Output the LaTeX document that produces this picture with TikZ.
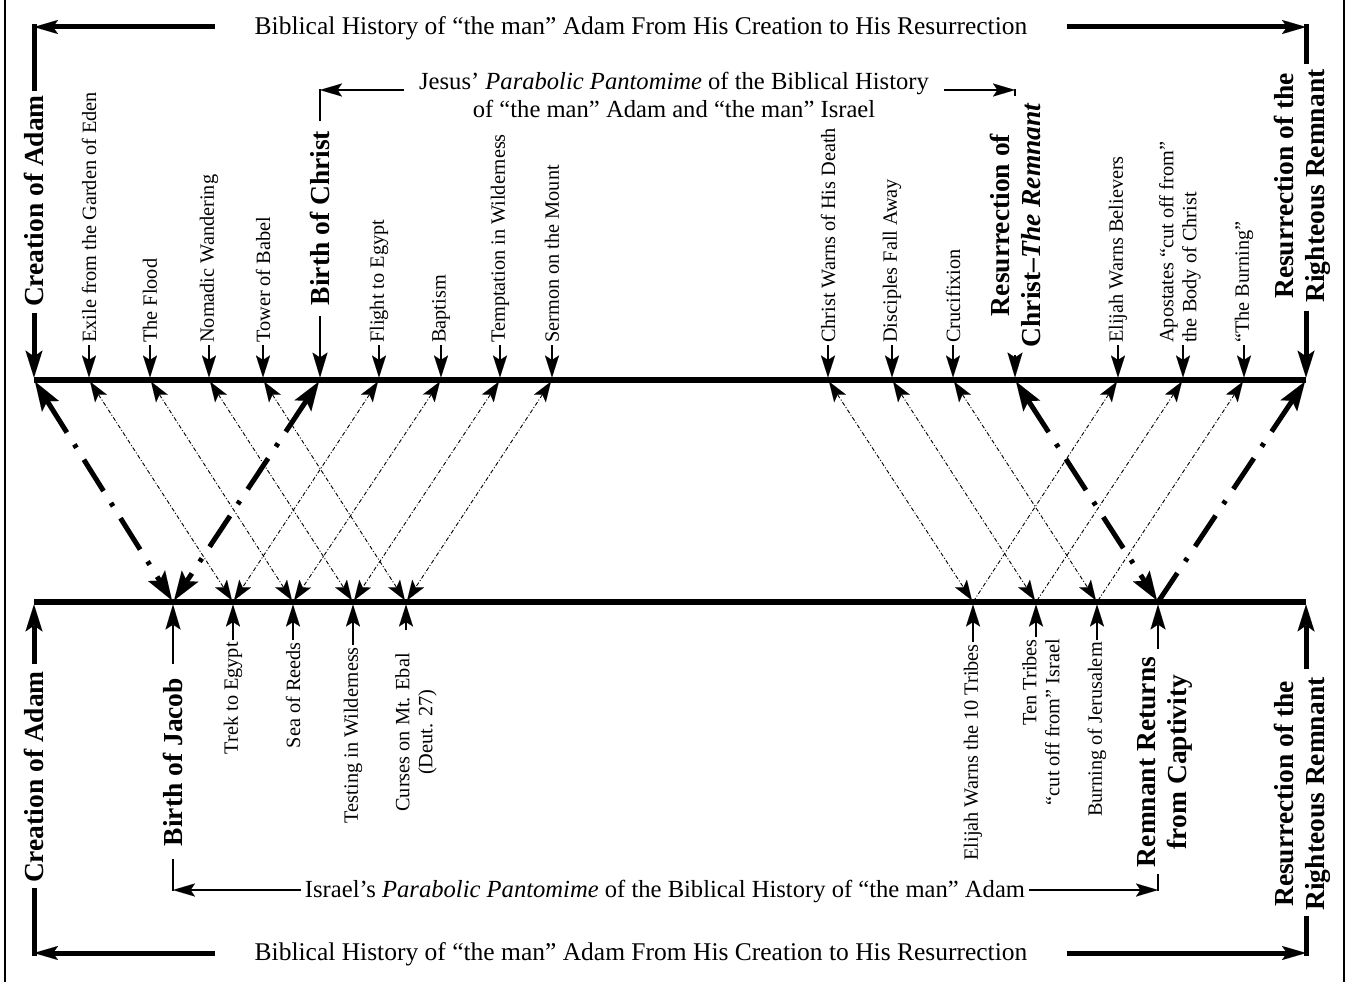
\documentclass[tikz,border=0pt]{standalone}
\usepackage{fontspec}
\setmainfont{Liberation Serif}
\usetikzlibrary{arrows.meta}
\tikzset{
  bigV/.tip={Stealth[length=27pt,width=17pt,inset=6pt,line width=0.01pt]},
  midV/.tip={Stealth[length=25pt,width=15pt,inset=5pt,line width=0.01pt]},
  bigH/.tip={Stealth[length=24pt,width=14pt,inset=5pt,line width=0.01pt]},
  midH/.tip={Stealth[length=22pt,width=13pt,inset=4.5pt,line width=0.01pt]},
  smT/.tip={Stealth[length=22pt,width=14pt,inset=4.5pt,line width=0.01pt]},
  thinT/.tip={Stealth[length=20pt,width=14pt,inset=4.5pt,line width=0.01pt]},
  thickT/.tip={Stealth[length=29pt,width=20pt,inset=6pt,line width=0.01pt]},
  heavy/.style={line width=5pt},
  timeln/.style={line width=5.5pt},
  midln/.style={line width=2.7pt},
  smln/.style={line width=1.4pt},
  thinx/.style={line width=0.9pt,dash pattern=on 4pt off 2pt on 1pt off 2pt,shorten <=2pt,shorten >=2pt},
  thickx/.style={line width=5pt,dash pattern=on 37pt off 14pt on 4pt off 14pt,shorten <=2pt,shorten >=2pt},
  bl/.style={rotate=90,font=\fontsize{27.5}{31}\selectfont\bfseries,align=center,inner xsep=8pt,inner ysep=0pt},
  sl/.style={rotate=90,font=\fontsize{20.3}{23}\selectfont,inner xsep=2pt,inner ysep=0pt},
  ttl/.style={font=\fontsize{25.5}{30}\selectfont,inner xsep=39pt,inner ysep=0pt},
  jt/.style={font=\fontsize{24.6}{28}\selectfont,align=center,inner ysep=0pt}
}
\begin{document}
\begin{tikzpicture}[x=1pt,y=-1pt]
\useasboundingbox (0,0) rectangle (1348,982);
% frame sides
\draw[line width=2pt] (5,0) -- (5,982);
\draw[line width=2pt] (1344,0) -- (1344,982);
% timeline points
\foreach \n/\x in {0/34,1/89,2/150,3/209,4/263,5/320,6/379,7/441,8/500,9/552,10/828,11/892,12/953,13/1015,14/1118,15/1183,16/1244,17/1306}
  \coordinate (a\n) at (\x,380);
\foreach \n/\x in {0/34,1/173,2/233,3/293,4/353,5/406,6/973,7/1036,8/1097,9/1158,10/1306}
  \coordinate (b\n) at (\x,602);
\draw[timeln] (a0) -- (a17);
\draw[timeln] (b0) -- (b10);
% ---------- top ----------
\node[ttl] (T1) at (641,28) {Biblical History of “the man” Adam From His Creation to His Resurrection};
\coordinate (TL) at (34,27);
\coordinate (TR) at (1306,27);
\draw[heavy,-{bigH}] (T1.west |- TL) -- (TL);
\draw[heavy,-{bigH}] (T1.east |- TR) -- (TR);
\node[bl,inner xsep=6pt] (cAt) at (34,201) {Creation of Adam};
\draw[heavy,line cap=rect] (TL) -- (cAt.east);
\draw[heavy,-{bigV},shorten >=2.5pt] (cAt.west) -- (a0);
\node[bl] (rRt) at (1302,186) {Resurrection of the\\Righteous Remnant};
\draw[heavy,line cap=rect] (TR) -- (TR |- rRt.east);
\draw[heavy,-{bigV},shorten >=2.5pt] (a17 |- rRt.west) -- (a17);
% Jesus bracket
\node[jt,inner xsep=15pt] (J) at (674,95) {Jesus’ \textit{Parabolic Pantomime} of the Biblical History\\of “the man” Adam and “the man” Israel};
\coordinate (JL) at (320,90);
\coordinate (JR) at (1015,90);
\draw[midln,-{midH}] (J.west |- JL) -- (JL);
\draw[midln,-{midH}] (J.east |- JR) -- (JR);
\node[bl,inner xsep=11pt] (bC) at (320,218) {Birth of Christ};
\draw[midln,line cap=rect] (JL) -- (bC.east);
\draw[midln,-{midV},shorten >=2.5pt] (bC.west) -- (a5);
\node[bl] (rC) at (1015,225) {Resurrection of\\Christ–\textit{The Remnant}};
\draw[midln,line cap=rect] (JR) -- (rC.east);
\draw[midln,-{midV},shorten >=2.5pt] (rC.west) -- (a13);
% top small labels
\foreach \i/\t in {1/Exile from the Garden of Eden,2/The Flood,3/Nomadic Wandering,4/Tower of Babel,6/Flight to Egypt,7/Baptism,8/Temptation in Wilderness,9/Sermon on the Mount,10/Christ Warns of His Death,11/Disciples Fall Away,12/Crucifixion,14/Elijah Warns Believers,16/“The Burning”}
{
  \node[sl,anchor=west] (L\i) at ([yshift=35pt]a\i) {\t};
  \draw[smln,-{smT},shorten >=2.5pt] (L\i.west) -- (a\i);
}
\node[sl,align=left,anchor=west] (L15) at (1180,345) {Apostates “cut off from”\\the Body of Christ};
\draw[smln,-{smT},shorten >=2.5pt] (a15 |- L15.west) -- (a15);
% ---------- bottom ----------
\node[ttl] (T2) at (641,954) {Biblical History of “the man” Adam From His Creation to His Resurrection};
\coordinate (BL) at (34,953);
\coordinate (BR) at (1306,953);
\draw[heavy,-{bigH}] (T2.west |- BL) -- (BL);
\draw[heavy,-{bigH}] (T2.east |- BR) -- (BR);
\node[bl,inner xsep=7pt] (cAb) at (34,777) {Creation of Adam};
\draw[heavy,line cap=rect] (BL) -- (cAb.west);
\draw[heavy,-{bigV},shorten >=2.5pt] (cAb.east) -- (b0);
\node[bl] (rRb) at (1302,794) {Resurrection of the\\Righteous Remnant};
\draw[heavy,line cap=rect] (BR) -- (BR |- rRb.west);
\draw[heavy,-{bigV},shorten >=2.5pt] (b10 |- rRb.east) -- (b10);
% Israel bracket
\node[jt,inner xsep=4pt] (I) at (665,891) {Israel’s \textit{Parabolic Pantomime} of the Biblical History of “the man” Adam};
\coordinate (IL) at (173,890);
\coordinate (IR) at (1158,890);
\draw[midln,-{midH}] (I.west |- IL) -- (IL);
\draw[midln,-{midH}] (I.east |- IR) -- (IR);
\node[bl,inner xsep=14pt] (bJ) at (173,762) {Birth of Jacob};
\draw[midln,line cap=rect] (IL) -- (bJ.west);
\draw[midln,-{midV},shorten >=2.5pt] (bJ.east) -- (b1);
\node[bl] (rRR) at (1165,762) {Remnant Returns\\from Captivity};
\draw[midln,line cap=rect] (IR) -- (IR |- rRR.west);
\draw[midln,-{midV},shorten >=2.5pt] (b9 |- rRR.east) -- (b9);
% bottom small labels
\foreach \i/\t/\s in {2/Trek to Egypt/38,3/Sea of Reeds/38,4/Testing in Wilderness/43,6/Elijah Warns the 10 Tribes/40,8/Burning of Jerusalem/38}
{
  \node[sl,anchor=east] (M\i) at ([yshift=-\s pt]b\i) {\t};
  \draw[smln,-{smT},shorten >=2.5pt] (M\i.east) -- (b\i);
}
\node[sl,align=center,anchor=east] (M5) at (416,651) {Curses on Mt. Ebal\\(Deut. 27)};
\draw[smln,-{smT},shorten <=21pt,shorten >=2.5pt] (b5 |- M5.east) -- (b5);
\node[sl,align=right,anchor=east] (M7) at (1041,637) {Ten Tribes\\“cut off from” Israel};
\draw[smln,-{smT},shorten >=2.5pt] (b7 |- M7.east) -- (b7);
% ---------- diagonals ----------
\draw[thickx,{thickT}-{thickT}] (a0) -- (b1);
\draw[thickx,{thickT}-{thickT}] (a5) -- (b1);
\draw[thickx,{thickT}-{thickT}] (a13) -- (b9);
\draw[thickx,{thickT}-] (a17) -- (b9);
\draw[thinx,{thinT}-{thinT}] (a1) -- (b2);
\draw[thinx,{thinT}-{thinT}] (a6) -- (b2);
\draw[thinx,{thinT}-{thinT}] (a2) -- (b3);
\draw[thinx,{thinT}-{thinT}] (a7) -- (b3);
\draw[thinx,{thinT}-{thinT}] (a3) -- (b4);
\draw[thinx,{thinT}-{thinT}] (a8) -- (b4);
\draw[thinx,{thinT}-{thinT}] (a4) -- (b5);
\draw[thinx,{thinT}-{thinT}] (a9) -- (b5);
\draw[thinx,{thinT}-{thinT}] (a10) -- (b6);
\draw[thinx,{thinT}-] (a14) -- (b6);
\draw[thinx,{thinT}-{thinT}] (a11) -- (b7);
\draw[thinx,{thinT}-] (a15) -- (b7);
\draw[thinx,{thinT}-{thinT}] (a12) -- (b8);
\draw[thinx,{thinT}-] (a16) -- (b8);
\end{tikzpicture}
\end{document}
